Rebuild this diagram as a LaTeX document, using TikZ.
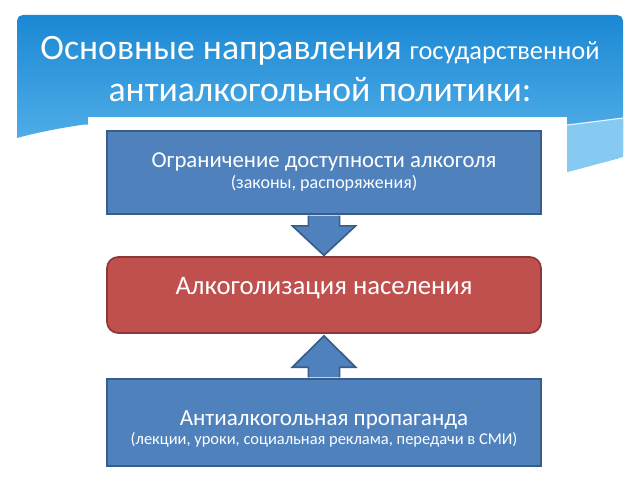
\documentclass[tikz,border=0pt]{standalone}
\usepackage{fontspec}
\setmainfont{Carlito}
\usetikzlibrary{calc,positioning}
\definecolor{Sky}{HTML}{1B88D4}
\definecolor{SkyLight}{HTML}{5DB7EC}
\definecolor{BoxBlue}{HTML}{4F81BD}
\definecolor{BoxBlueLine}{HTML}{385D8A}
\definecolor{BoxRed}{HTML}{C0504D}
\definecolor{BoxRedLine}{HTML}{8C3836}

\begin{document}
\begin{tikzpicture}[
    block/.style={draw=BoxBlueLine,fill=BoxBlue,line width=1.2pt,minimum width=10.85cm,
      text=white,align=center,inner sep=0pt},
    core/.style={block,draw=BoxRedLine,fill=BoxRed,rounded corners=8pt},
    fat/.style={draw=BoxBlueLine,fill=BoxBlue,line width=1.2pt},
    heading/.style={text=white,align=center,font=\fontsize{25.4}{30}\selectfont}
  ]
  \useasboundingbox (0,0) rectangle (16,12);
  \fill[white] (0,0) rectangle (16,12);
  % banner
  \shade[top color=Sky,bottom color=SkyLight,rounded corners=4pt]
    (0.425,8.55) -- (0.425,11.625) -- (15.575,11.625) -- (15.575,8.075)
    -- (14.175,7.7) -- (7.5,7.7) -- (2.2,8.9)
    .. controls (1.5,8.8) and (0.875,8.675) .. (0.425,8.55);
  \fill[SkyLight!75!white] (14.175,8.875) .. controls (14.8,8.95) .. (15.575,9.05)
    -- (15.575,8.075) -- (14.175,7.7) -- cycle;
  \draw[white!85!SkyLight,line width=0.8pt] (14.175,8.875) .. controls (14.8,8.95) .. (15.575,9.05);
  \fill[white] (2.2,0) rectangle (14.175,9.075);
  \node[heading] (title) at (8.0,10.28)
    {Основные направления {\fontsize{18.8}{20}\selectfont государственной}\\
     антиалкогольной политики:};

  \node[block,minimum height=2.075cm] (limits) at (8.1,7.6875)
    {\fontsize{16.2}{20}\selectfont Ограничение доступности алкоголя\\[2pt]
     \fontsize{12.8}{15}\selectfont (законы, распоряжения)};
  \node[core,minimum height=1.9cm,text depth=0.45cm] (alco) at (8.1,4.625)
    {\fontsize{19}{22}\selectfont Алкоголизация населения};
  \node[block,minimum height=2.175cm] (propaganda) at (8.1,1.4375)
    {\fontsize{16.4}{20}\selectfont\rule{0pt}{1.2em}Антиалкогольная пропаганда\\[2pt]
     \fontsize{11.7}{14}\selectfont (лекции, уроки, социальная реклама, передачи в СМИ)};

  \draw[fat] ($(limits.south)+(-0.39,-0.02)$) -- ($(limits.south)+(-0.39,-0.275)$)
    -- ($(limits.south)+(-0.79,-0.275)$) -- ($(alco.north)+(0,0.02)$)
    -- ($(limits.south)+(0.79,-0.275)$) -- ($(limits.south)+(0.39,-0.275)$)
    -- ($(limits.south)+(0.39,-0.02)$);
  \draw[fat] ($(propaganda.north)+(-0.39,0.02)$) -- ($(propaganda.north)+(-0.39,0.275)$)
    -- ($(propaganda.north)+(-0.79,0.275)$) -- ($(alco.south)+(0,-0.05)$)
    -- ($(propaganda.north)+(0.79,0.275)$) -- ($(propaganda.north)+(0.39,0.275)$)
    -- ($(propaganda.north)+(0.39,0.02)$);
\end{tikzpicture}
\end{document}
